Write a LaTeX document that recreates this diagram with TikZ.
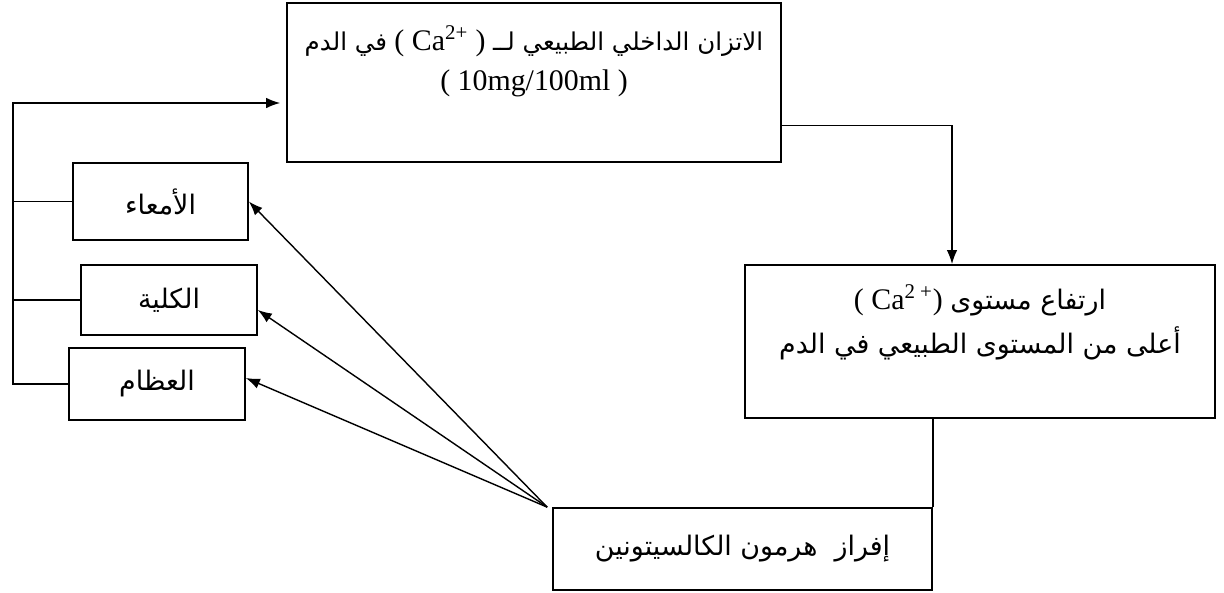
\documentclass[tikz,border=0pt]{standalone}
\usepackage{fontspec}
\setmainfont{Liberation Serif}
\newfontfamily\arabicfont[Script=Arabic,Scale=0.9]{DejaVu Sans}
\TeXXeTstate=1
\usetikzlibrary{arrows.meta, positioning}
\newcommand{\artxt}[1]{{\arabicfont\beginR #1\endR}}

\begin{document}
\begin{tikzpicture}[x=0.02cm, y=-0.02cm, >={Latex[length=2.8mm,width=2.1mm]}, line width=0.8pt]
      \tikzset{box/.style={rectangle, draw, line width=1pt, inner sep=0pt, align=center, font=\fontsize{17}{23}\selectfont}}
      \useasboundingbox (0,0) rectangle (1224,592);

      \node (balance) [box] at (534,82.5) {\parbox[c][3.18cm][t]{9.88cm}{\centering\vspace{0.45cm}%
        {\fontsize{15.5}{23}\selectfont\artxt{في الدم}} ( Ca\textsuperscript{2+} ) {\fontsize{15.5}{23}\selectfont\artxt{الاتزان الداخلي الطبيعي لــ}}\\( 10mg/100ml )}};
      \node (rise) [box] at (980,341.5) {\parbox[c][3.06cm][t]{9.4cm}{\centering\vspace{0.4cm}%
        ( Ca\textsuperscript{2 +}) \artxt{ارتفاع مستوى}\\[2pt]\artxt{أعلى من المستوى الطبيعي في الدم}}};
      \node (secretion) [box, minimum width=7.58cm, minimum height=1.64cm] at (742.5,549) {\artxt{إفراز\ \ هرمون الكالسيتونين}};
      \node (intestine) [box, minimum width=3.5cm, minimum height=1.54cm] at (160.5,201.5) {\artxt{الأمعاء}};
      \node (kidney) [box, minimum width=3.52cm, minimum height=1.4cm] at (169,300) {\artxt{الكلية}};
      \node (bone) [box, minimum width=3.52cm, minimum height=1.44cm] at (157,384) {\artxt{العظام}};

      % feedback to the normal level
      \coordinate (busTop) at (13,103);
      \draw (intestine.west) -- (intestine.west -| busTop);
      \draw (kidney.west) -- (kidney.west -| busTop);
      \draw[->] (bone.west) -- (bone.west -| busTop) -- (busTop) -- ([xshift=-0.12cm]balance.west |- busTop);

      \draw[->] ([yshift=-0.86cm]balance.east) -| ([xshift=-0.56cm]rise.north);
      \draw (rise.south -| secretion.north east) -- (secretion.north east);

      \draw[->] ([xshift=-0.1cm]secretion.north west) -- (intestine.east);
      \draw[->] ([xshift=-0.1cm]secretion.north west) -- ([yshift=-0.2cm]kidney.east);
      \draw[->] ([xshift=-0.1cm]secretion.north west) -- ([yshift=0.12cm]bone.east);
    \end{tikzpicture}
\end{document}
